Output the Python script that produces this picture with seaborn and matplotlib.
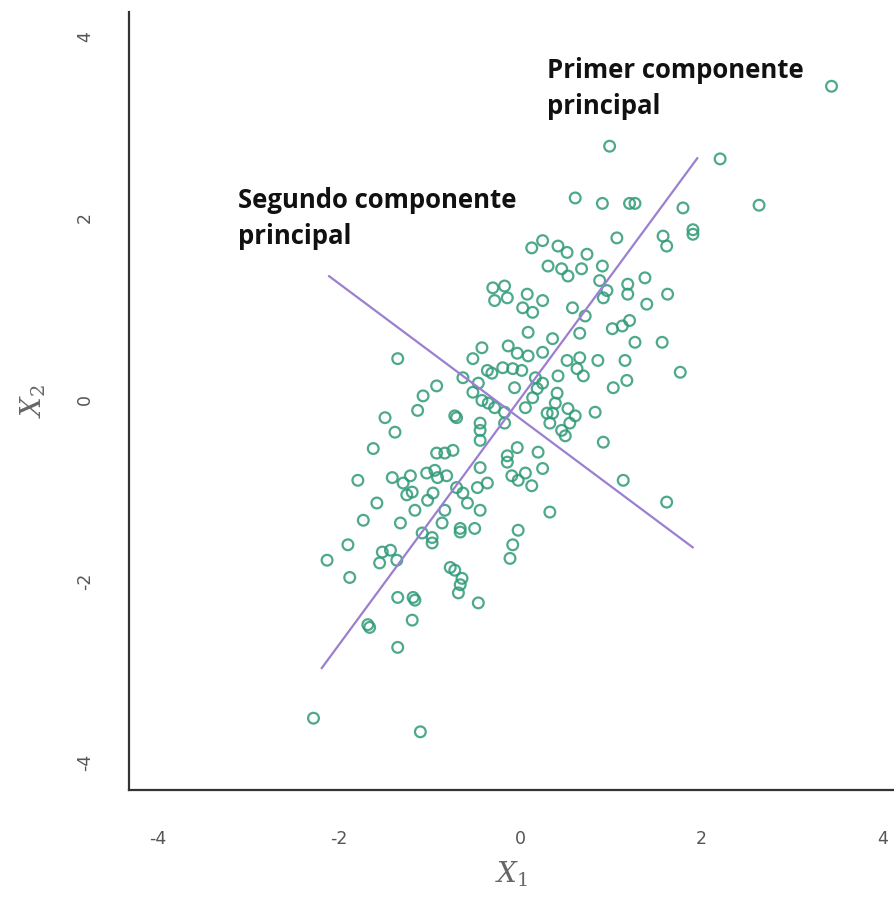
import numpy as np
import pandas as pd
import matplotlib.pyplot as plt
import seaborn as sns

x1 = [0.99, 0.61, 0.91, 1.27, 1.21, 1.80, 1.07, 1.58, 1.62, 1.91, 1.91, 0.13, 0.25, 0.42, 0.52, 0.74,
      3.44, 2.21, 2.64,
      0.31, 0.46, 0.53, 0.68, 0.91, 0.88, 0.96, 0.92, 1.19, 1.19, 1.38, 1.63, 1.40, -0.17, -0.14, 0.08,
      0.03, 0.14, 0.25, 0.58, 0.72, 1.02, 1.13, 1.21, 1.27, 1.57, 1.77, 0.09, 0.36, 0.66, -0.13, -0.03,
      0.09, 0.25, 0.52, 0.66, 0.63, 0.70, 0.86, 1.16, 1.18, 1.03, -0.19, -0.08, 0.02, -0.06, 0.17, 0.25,
      0.19, 0.42, 0.14, 0.06, 0.41, 0.39, 0.30, 0.36, 0.53, 0.61, 0.33, 0.46, 0.50, 0.55, 0.83, 0.92,
      -0.17, -0.17, -0.03, -0.14, 0.20,
      -0.30, -0.28, -0.42, -0.52, -0.36, -0.31, -0.63, -0.46, -1.35, -0.92, -1.07, -1.13, -0.72, -0.70,
      -0.52, -0.42, -0.35, -0.28, -0.44, -0.44, -0.44, -1.49, -1.38, -1.62, -0.92, -0.83, -0.74,
      -1.79, -1.41, -1.29, -1.21, -1.19, -1.25, -1.03, -0.94, -0.91, -0.81, -0.96, -1.02, -0.70, -0.63,
      -0.47, -0.36, -0.44, -1.58, -1.16, -0.83, -0.58, -0.44, -1.73, -1.32, -0.86, -0.66, -0.66, -0.50,
      -1.08, -0.97, -0.97, -1.90, -1.52, -1.43, -1.55, -1.36, -2.13, -1.88, -0.77, -0.72, -0.64, -0.66,
      -0.68, -0.46, -1.35, -1.18, -1.16, -1.19, -1.68, -1.66, -1.35,
      -0.14, 0.25, -0.09, -0.02, 0.06, 0.13, 0.33, -0.02, -0.08, -0.11, 1.14, 1.62,
      -2.28, -1.10]
x2 = [2.79, 2.22, 2.16, 2.16, 2.16, 2.11, 1.78, 1.80, 1.69, 1.82, 1.87, 1.67, 1.75, 1.69, 1.62, 1.60,
      3.45, 2.65, 2.14,
      1.47, 1.44, 1.36, 1.44, 1.47, 1.31, 1.20, 1.12, 1.27, 1.16, 1.34, 1.16, 1.05, 1.25, 1.12, 1.16,
      1.01, 0.96, 1.09, 1.01, 0.92, 0.78, 0.81, 0.87, 0.63, 0.63, 0.30, 0.74, 0.67, 0.73, 0.59, 0.51,
      0.48, 0.52, 0.43, 0.46, 0.34, 0.26, 0.43, 0.43, 0.21, 0.13, 0.35, 0.34, 0.32, 0.13, 0.24, 0.18,
      0.12, 0.26, 0.02, -0.09, 0.07, -0.04, -0.15, -0.15, -0.10, -0.18, -0.26, -0.34, -0.40, -0.26, -0.14, -0.47,
      -0.26, -0.14, -0.53, -0.62, -0.58,
      1.23, 1.09, 0.57, 0.45, 0.32, 0.29, 0.24, 0.18, 0.45, 0.15, 0.04, -0.12, -0.18, -0.20,
      0.08, -0.01, -0.04, -0.09, -0.26, -0.34, -0.45, -0.20, -0.36, -0.54, -0.59, -0.59, -0.56,
      -0.89, -0.86, -0.92, -0.84, -1.02, -1.05, -0.81, -0.78, -0.86, -0.84, -1.03, -1.11, -0.97, -1.03,
      -0.97, -0.92, -0.75, -1.14, -1.22, -1.22, -1.14, -1.22, -1.33, -1.36, -1.36, -1.42, -1.46, -1.42,
      -1.47, -1.52, -1.58, -1.60, -1.68, -1.66, -1.80, -1.77, -1.77, -1.96, -1.85, -1.88, -1.97, -2.04,
      -2.13, -2.24, -2.18, -2.18, -2.21, -2.43, -2.48, -2.51, -2.73,
      -0.69, -0.76, -0.84, -0.89, -0.81, -0.95, -1.24, -1.44, -1.60, -1.75, -0.89, -1.13,
      -3.51, -3.66]

# Principal component directions (segment endpoints)
pc1_x = [-2.19, 1.96]
pc1_y = [-2.96, 2.66]
pc2_x = [-2.11, 1.91]
pc2_y = [1.36, -1.63]

ticks = [-4, -2, 0, 2, 4]

df = pd.DataFrame({'X1': x1, 'X2': x2})

sns.set_style('white')
plt.rcParams['mathtext.fontset'] = 'dejavuserif'
fig = plt.figure(figsize=(8.94, 9.09), dpi=100)
ax = fig.add_axes([0.144, 0.131, 0.856, 0.856])

sns.scatterplot(data=df, x='X1', y='X2', ax=ax, marker='o', s=60,
                facecolor='none', edgecolor='#2f9a78', linewidth=1.6, alpha=0.85)
sns.lineplot(x=pc1_x, y=pc1_y, ax=ax, sort=False, color='#9b7fd0', linewidth=1.6)
sns.lineplot(x=pc2_x, y=pc2_y, ax=ax, sort=False, color='#9b7fd0', linewidth=1.6)

ax.text(0.30, 3.77, 'Primer componente\nprincipal', fontsize=18.5, fontweight='bold',
        family='Open Sans', va='top', ha='left', linespacing=1.42, color='#111111')
ax.text(-3.11, 2.34, 'Segundo componente\nprincipal', fontsize=18.5, fontweight='bold',
        family='Open Sans', va='top', ha='left', linespacing=1.42, color='#111111')

ax.set_xlim(-4.32, 4.13)
ax.set_ylim(-4.30, 4.27)
ax.set_xticks(ticks)
ax.set_yticks(ticks)
ax.set_xticklabels([str(t) for t in ticks], color='#555555', fontsize=12.5)
ax.set_yticklabels([str(t) for t in ticks], color='#555555', fontsize=12.5, rotation=90, va='center')
ax.tick_params(axis='y', direction='out', length=11, width=1.4, color='#333333', pad=14)
ax.tick_params(axis='x', direction='out', length=9, width=1.4, color='#333333', pad=20)

for side in ['top', 'right']:
    ax.spines[side].set_visible(False)
for side in ['left', 'bottom']:
    ax.spines[side].set_color('#333333')
    ax.spines[side].set_linewidth(1.6)

ax.set_xlabel(r'$X_1$', fontsize=20, color='#666666', labelpad=8)
ax.set_ylabel(r'$X_2$', fontsize=20, color='#666666', labelpad=20)

fig.savefig('out.png', dpi=100)
